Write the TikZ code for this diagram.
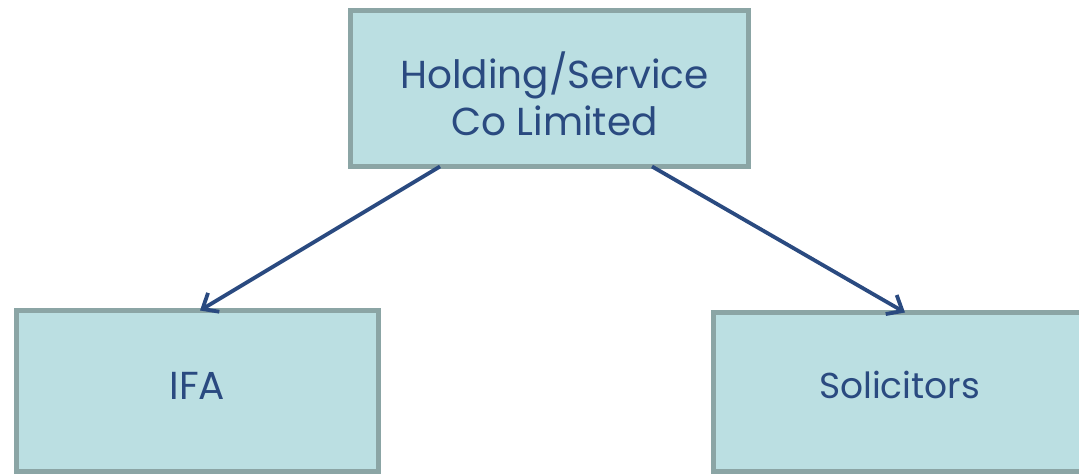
\documentclass[tikz,border=0pt]{standalone}
\usepackage{fontspec}
\setmainfont{Poppins}
\usetikzlibrary{arrows.meta}
\definecolor{boxfill}{HTML}{BBDFE2}
\definecolor{boxline}{HTML}{8BA5A5}
\definecolor{ink}{HTML}{2A4A80}
\tikzset{
  orgbox/.style={draw=boxline, fill=boxfill, line width=5pt, rectangle, outer sep=0pt, inner sep=0pt,
    text=ink, font=\fontsize{39}{47}\selectfont, align=center},
  arr/.style={draw=ink, line width=3.8pt, -{Straight Barb[length=13pt, width=22pt, line width=3.8pt]}}
}
\begin{document}
\begin{tikzpicture}[x=1pt,y=1pt]
\useasboundingbox (0,0) rectangle (1079,475);
\clip (0,0) rectangle (1079,475);
\node[orgbox, minimum width=398pt, minimum height=156pt] (top) at (549.5,386.5)
  {\raisebox{0pt}[0pt][0pt]{\hspace*{10pt}\begin{tabular}[t]{@{}c@{}}Holding/Service\\Co Limited\end{tabular}}};
\node[orgbox, minimum width=362pt, minimum height=161pt] (ifa) at (197.5,84) {\raisebox{-8pt}[0pt][0pt]{IFA}};
\node[orgbox, minimum width=372pt, minimum height=159pt, font=\fontsize{36}{44}\selectfont] (sol) at (899.5,83) {\raisebox{-6pt}[0pt][0pt]{Solicitors}};
\draw[arr] ([xshift=-109.5pt]top.south) -- ([xshift=2.5pt]ifa.north);
\draw[arr] ([xshift=102.5pt]top.south) -- ([xshift=5.5pt]sol.north);
\end{tikzpicture}
\end{document}
